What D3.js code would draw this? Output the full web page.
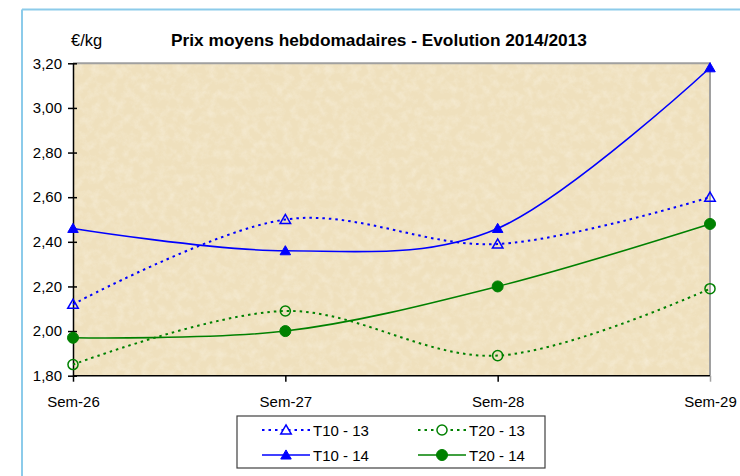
<!DOCTYPE html>
<html><head><meta charset="utf-8">
<script src="https://cdn.jsdelivr.net/npm/d3@7"></script>
<style>body{margin:0;background:#fff}svg{display:block;font-family:"Liberation Sans",Arial,sans-serif}</style>
</head><body>
<script>
const categories = ["Sem-26","Sem-27","Sem-28","Sem-29"];
const t10_13 = [2.12, 2.50, 2.39, 2.60];
const t20_13 = [1.85, 2.09, 1.89, 2.19];
const t10_14 = [2.46, 2.36, 2.46, 3.18];
const t20_14 = [1.97, 2.00, 2.20, 2.48];
const yTicks = [1.8, 2.0, 2.2, 2.4, 2.6, 2.8, 3.0, 3.2];

const series = [
  {name:"T10 - 13", values:t10_13, color:"#0000ff", dashed:true, shape:"triangle", filled:false},
  {name:"T20 - 13", values:t20_13, color:"#008000", dashed:true, shape:"circle", filled:false},
  {name:"T10 - 14", values:t10_14, color:"#0000ff", dashed:false, shape:"triangle", filled:true},
  {name:"T20 - 14", values:t20_14, color:"#008000", dashed:false, shape:"circle", filled:true}
];

const W = 740, H = 476;
const svg = d3.select("body").append("svg").attr("width", W).attr("height", H);
const L = 73, R = 710, T = 63.3, B = 375.7;

const x = d3.scalePoint().domain(categories).range([L, R]);
const y = d3.scaleLinear().domain([1.8, 3.2]).range([B, T]);

// outer frame
svg.append("line").attr("x1",22).attr("x2",22).attr("y1",9.5).attr("y2",H).attr("stroke","#8ccbea").attr("stroke-width",2);
svg.append("line").attr("x1",22).attr("x2",W).attr("y1",9.5).attr("y2",9.5).attr("stroke","#8ccbea").attr("stroke-width",2);

// texture
const defs = svg.append("defs");
const f = defs.append("filter").attr("id","sand").attr("x",0).attr("y",0).attr("width","100%").attr("height","100%");
f.append("feTurbulence").attr("type","fractalNoise").attr("baseFrequency","0.12").attr("numOctaves",4).attr("seed",7).attr("result","n");
f.append("feColorMatrix").attr("in","n").attr("type","matrix")
  .attr("values","0 0 0 0 1  0 0 0 0 0.98  0 0 0 0 0.92  1.4 0 0 0 -0.55").attr("result","light");
f.append("feColorMatrix").attr("in","n").attr("type","matrix")
  .attr("values","0 0 0 0 0.88  0 0 0 0 0.76  0 0 0 0 0.52  0 -1.4 0 0 0.55").attr("result","dark");
f.append("feMerge").call(m=>{m.append("feMergeNode").attr("in","dark");m.append("feMergeNode").attr("in","light");});

svg.append("rect").attr("x",L).attr("y",T).attr("width",R-L).attr("height",B-T).attr("fill","#efe0bd");
svg.append("rect").attr("x",L).attr("y",T).attr("width",R-L).attr("height",B-T).attr("filter","url(#sand)").attr("opacity",0.45);

// plot border top/right gray
svg.append("path").attr("d",`M${L},${T}H${R}V${B}`).attr("fill","none").attr("stroke","#a0a0a0").attr("stroke-width",2);

// y axis
const yAxis = d3.axisLeft(y).tickValues(yTicks).tickSize(0).tickPadding(11)
  .tickFormat(d => d3.format(".2f")(d).replace(".", ","));
const gy = svg.append("g").attr("transform",`translate(${L},0)`).call(yAxis);
gy.select(".domain").attr("stroke","#000").attr("stroke-width",1.5);
gy.selectAll(".tick line").remove();
gy.selectAll(".tick").append("line").attr("x1",-5).attr("x2",4).attr("stroke","#000").attr("stroke-width",1.5);
gy.selectAll("text").attr("font-size",15).attr("fill","#000").attr("font-family","Liberation Sans, Arial, sans-serif");

// x axis
const xAxis = d3.axisBottom(x).tickSize(6).tickPadding(15);
const gx = svg.append("g").attr("transform",`translate(0,${B})`).call(xAxis);
gx.select(".domain").attr("d",`M${L},0H${R}`).attr("stroke","#000").attr("stroke-width",1.5);
gx.selectAll(".tick line").attr("stroke","#000").attr("stroke-width",1.5);
gx.selectAll(".tick").filter(d=>d===categories[categories.length-1]).select("line").attr("stroke","#a0a0a0");
gx.selectAll("text").attr("font-size",15).attr("fill","#000").attr("font-family","Liberation Sans, Arial, sans-serif");

// lines
const line = d3.line().x((d,i)=>x(categories[i])).y(d=>y(d)).curve(d3.curveCatmullRom.alpha(0));
const sym = s => s.shape==="triangle" ? d3.symbol().type(d3.symbolTriangle).size(48)() : d3.symbol().type(d3.symbolCircle).size(s.filled?95:80)();

series.forEach(s=>{
  svg.append("path").attr("d", line(s.values)).attr("fill","none").attr("stroke", s.color)
    .attr("stroke-width", s.dashed?2:1.6).attr("stroke-dasharray", s.dashed?"2.5,4":null);
});
series.forEach(s=>{
  svg.selectAll(null).data(s.values).join("path")
    .attr("transform",(d,i)=>`translate(${x(categories[i])},${y(d)+(s.shape==="triangle"?1:0)})`)
    .attr("d", sym(s))
    .attr("fill", s.filled? s.color : "none")
    .attr("stroke", s.color).attr("stroke-width", s.filled?1:1.5);
});

// titles
svg.append("text").attr("x",379).attr("y",46).attr("text-anchor","middle").attr("font-size",17.3).attr("font-weight","bold").text("Prix moyens hebdomadaires - Evolution 2014/2013");
svg.append("text").attr("x",71).attr("y",46).attr("font-size",16.5).text("€/kg");

// legend
const lg = svg.append("g");
lg.append("rect").attr("x",237).attr("y",416).attr("width",308).attr("height",52).attr("fill","#fff").attr("stroke","#404040").attr("stroke-width",1.2);
const legPos = [[262,430],[418,430],[262,455],[418,455]];
series.forEach((s,i)=>{
  const [lx,ly] = legPos[i];
  lg.append("line").attr("x1",lx).attr("x2",lx+48).attr("y1",ly).attr("y2",ly).attr("stroke",s.color)
    .attr("stroke-width", s.dashed?2:1.6).attr("stroke-dasharray", s.dashed?"2.5,4":null);
  lg.append("path").attr("transform",`translate(${lx+24},${ly+(s.shape==="triangle"?1:0)})`).attr("d",sym(s))
    .attr("fill", s.filled? s.color : "#fff").attr("stroke", s.color).attr("stroke-width", s.filled?1:1.5);
  lg.append("text").attr("x",lx+51).attr("y",ly+5.5).attr("font-size",15).text(s.name);
});
</script>
</body></html>
